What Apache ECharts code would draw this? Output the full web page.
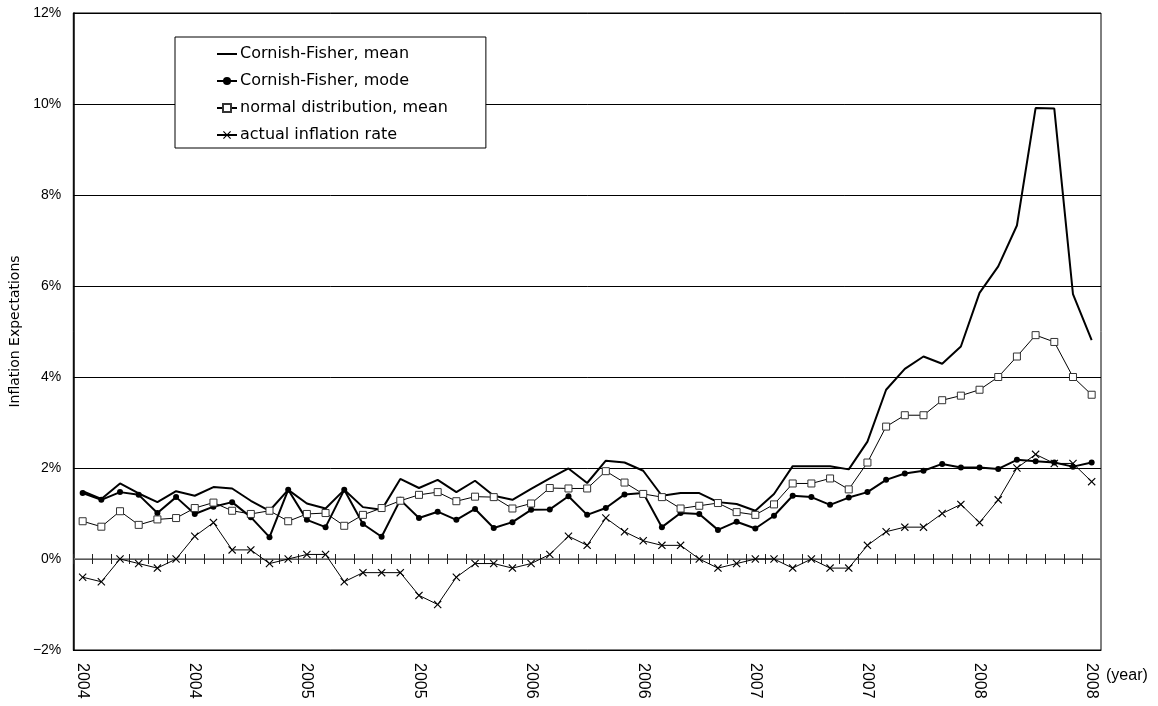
<!DOCTYPE html>
<html>
<head>
<meta charset="utf-8">
<script src="https://cdn.jsdelivr.net/npm/echarts@6/dist/echarts.min.js"></script>
<style>
  html, body { margin: 0; padding: 0; background: #fff; }
  #main { width: 1158px; height: 706px; }
</style>
</head>
<body>
<div id="main"></div>
<script>
// 月次データ 2004/1 - 2008/7
const months = [
  '2004/1','2004/2','2004/3','2004/4','2004/5','2004/6','2004/7','2004/8','2004/9','2004/10','2004/11','2004/12',
  '2005/1','2005/2','2005/3','2005/4','2005/5','2005/6','2005/7','2005/8','2005/9','2005/10','2005/11','2005/12',
  '2006/1','2006/2','2006/3','2006/4','2006/5','2006/6','2006/7','2006/8','2006/9','2006/10','2006/11','2006/12',
  '2007/1','2007/2','2007/3','2007/4','2007/5','2007/6','2007/7','2007/8','2007/9','2007/10','2007/11','2007/12',
  '2008/1','2008/2','2008/3','2008/4','2008/5','2008/6','2008/7'
];

const cfMean = [
  1.49, 1.32, 1.66, 1.44, 1.25, 1.49, 1.39, 1.58, 1.55, 1.28, 1.06,
  1.52, 1.22, 1.11, 1.52, 1.14, 1.08, 1.76, 1.56, 1.74, 1.47,
  1.72, 1.39, 1.30, 1.54, 1.77, 1.99, 1.67, 2.16, 2.12, 1.94,
  1.39, 1.45, 1.45, 1.25, 1.21, 1.06, 1.43, 2.04, 2.04, 2.04,
  1.97, 2.58, 3.72, 4.18, 4.45, 4.29, 4.67, 5.85, 6.43, 7.33,
  9.91, 9.90, 5.82, 4.81
];

const cfMode = [
  1.45, 1.30, 1.47, 1.41, 1.01, 1.36, 0.99, 1.15, 1.25, 0.92, 0.48,
  1.52, 0.86, 0.70, 1.52, 0.77, 0.49, 1.30, 0.90, 1.04, 0.86,
  1.10, 0.68, 0.81, 1.08, 1.09, 1.38, 0.97, 1.12, 1.42, 1.45,
  0.70, 1.01, 0.99, 0.64, 0.82, 0.67, 0.95, 1.39, 1.36, 1.19,
  1.35, 1.47, 1.74, 1.88, 1.94, 2.09, 2.01, 2.01, 1.98, 2.18,
  2.15, 2.12, 2.03, 2.12
];

const normalMean = [
  0.83, 0.71, 1.05, 0.75, 0.87, 0.90, 1.12, 1.24, 1.06, 0.99, 1.06,
  0.83, 0.99, 1.01, 0.73, 0.97, 1.12, 1.28, 1.41, 1.47, 1.27,
  1.37, 1.36, 1.11, 1.22, 1.56, 1.55, 1.55, 1.93, 1.68, 1.43,
  1.36, 1.11, 1.17, 1.23, 1.03, 0.97, 1.20, 1.66, 1.66, 1.77,
  1.53, 2.12, 2.91, 3.16, 3.16, 3.49, 3.59, 3.72, 4.00, 4.45,
  4.92, 4.77, 4.00, 3.61
];

const actualRate = [
  -0.4, -0.5, 0.0, -0.1, -0.2, 0.0, 0.5, 0.8, 0.2, 0.2, -0.1,
  0.0, 0.1, 0.1, -0.5, -0.3, -0.3, -0.3, -0.8, -1.0, -0.4,
  -0.1, -0.1, -0.2, -0.1, 0.1, 0.5, 0.3, 0.9, 0.6, 0.4,
  0.3, 0.3, 0.0, -0.2, -0.1, 0.0, 0.0, -0.2, 0.0, -0.2,
  -0.2, 0.3, 0.6, 0.7, 0.7, 1.0, 1.2, 0.8, 1.3, 2.0,
  2.3, 2.1, 2.1, 1.7
];

const seriesNames = [
  'Cornish-Fisher, mean',
  'Cornish-Fisher, mode',
  'normal distribution, mean',
  'actual inflation rate'
];

const FONT = '"Liberation Sans", Arial, sans-serif';
const WIDE_FONT = '"DejaVu Sans", sans-serif';
const crossSymbol = 'path://M0,1L1,0L5,4L9,0L10,1L6,5L10,9L9,10L5,6L1,10L0,9L4,5Z';
// 凡例用: 線だけのアイコン (20x10 の枠の中央に横線)
const plainLineIcon = 'path://M0,0L0.01,0L0.01,0.01ZM0,4L20,4L20,6L0,6ZM20,10L19.99,10L19.99,9.99Z';

const chart = echarts.init(document.getElementById('main'));

// 0% の線上の目盛り (各月の境界に上下にまたがる短い線)
const renderZeroTick = (params, api) => {
  const center = api.coord([api.value(0), 0]);
  const band = api.size([1, 0])[0];
  const x = Math.round(center[0] - band / 2) + 0.5;
  const y = center[1];
  return {
    type: 'group',
    children: [
      { type: 'line', shape: { x1: center[0] - band / 2, y1: y, x2: center[0] + band / 2, y2: y },
        style: { stroke: '#777', lineWidth: 1.5 } },
      { type: 'line', shape: { x1: x, y1: y - 5, x2: x, y2: y + 5 },
        style: { stroke: '#222', lineWidth: 1 } }
    ]
  };
};

const option = {
  animation: false,
  backgroundColor: '#fff',
  textStyle: { fontFamily: FONT, color: '#000' },
  grid: {
    left: 72, right: 57, top: 13, bottom: 56,
    containLabel: false,
    show: true, borderColor: '#000', borderWidth: 1
  },
  legend: {
    orient: 'vertical',
    left: 175, top: 37,
    padding: [9, 38, 5, 41],
    itemGap: 11,
    itemWidth: 20, itemHeight: 10,
    borderColor: '#000', borderWidth: 1,
    backgroundColor: '#fff',
    textStyle: { fontFamily: WIDE_FONT, fontSize: 16, color: '#000', padding: [0, 0, 0, -2] },
    data: [
      { name: seriesNames[0], icon: plainLineIcon },
      seriesNames[1],
      seriesNames[2],
      seriesNames[3]
    ]
  },
  xAxis: {
    type: 'category',
    data: months,
    position: 'bottom',
    boundaryGap: true,
    axisLine: { show: true, onZero: false, lineStyle: { color: '#000', width: 1 } },
    axisTick: { show: false },
    axisLabel: {
      interval: 5, rotate: -90, margin: 13,
      fontSize: 16, color: '#000', fontFamily: FONT,
      formatter: v => v.split('/')[0]
    },
    splitLine: { show: false }
  },
  yAxis: {
    type: 'value',
    min: -2, max: 12, interval: 2,
    name: 'Inflation Expectations',
    nameLocation: 'middle',
    nameGap: 44,
    nameTextStyle: { fontSize: 14, color: '#000', fontFamily: WIDE_FONT },
    axisLine: { show: true, lineStyle: { color: '#000', width: 1.5 } },
    axisTick: { show: true, inside: true, length: 5, lineStyle: { color: '#000' } },
    axisLabel: {
      fontSize: 14, color: '#000', margin: 12, fontFamily: FONT,
      formatter: v => (v < 0 ? '\u2212' + Math.abs(v) : v) + '%'
    },
    splitLine: {
      show: true,
      lineStyle: { color: '#000', width: 1 }
    }
  },
  series: [
    {
      name: 'zeroTicks', type: 'custom',
      data: months.map(m => [m, 0]),
      encode: { x: 0, y: 1 },
      renderItem: renderZeroTick,
      silent: true,
      z: 2
    },
    {
      name: seriesNames[0], type: 'line', data: cfMean,
      symbol: 'none',
      lineStyle: { color: '#000', width: 2 },
      itemStyle: { color: '#000' },
      z: 3
    },
    {
      name: seriesNames[1], type: 'line', data: cfMode,
      symbol: 'circle', symbolSize: 6,
      lineStyle: { color: '#000', width: 2 },
      itemStyle: { color: '#000' },
      z: 4
    },
    {
      name: seriesNames[2], type: 'line', data: normalMean,
      symbol: 'rect', symbolSize: 7,
      lineStyle: { color: '#000', width: 1 },
      itemStyle: { color: '#fff', borderColor: '#333', borderWidth: 1 },
      z: 5
    },
    {
      name: seriesNames[3], type: 'line', data: actualRate,
      symbol: crossSymbol, symbolSize: 8,
      lineStyle: { color: '#000', width: 1 },
      itemStyle: { color: '#000' },
      z: 6
    }
  ],
  graphic: [
    {
      type: 'text', left: 1106, top: 668,
      style: { text: '(year)', fontSize: 16, fill: '#000', fontFamily: FONT }
    }
  ]
};

chart.setOption(option);
</script>
</body>
</html>
